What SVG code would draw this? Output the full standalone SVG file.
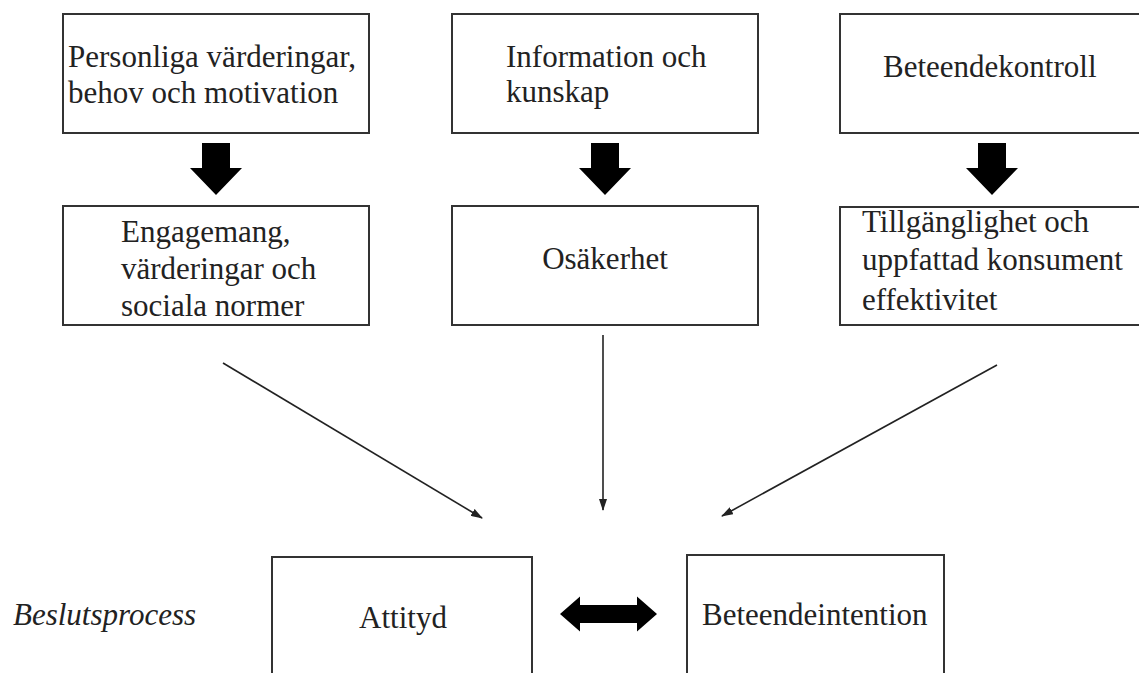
<svg xmlns="http://www.w3.org/2000/svg" width="1139" height="673" viewBox="0 0 1139 673">
<style>
.box{fill:#fff;stroke:#333;stroke-width:2}
.t{font-family:"Liberation Serif","Times New Roman",serif;font-size:31px;fill:#222}
.i{font-style:italic}
.c{stroke:#222;stroke-width:1.6;fill:none}
.blk{fill:#000}
</style>
<defs>
<marker id="ah" viewBox="0 0 12 8" refX="11" refY="4" markerWidth="12" markerHeight="8" markerUnits="userSpaceOnUse" orient="auto">
<path d="M0,0 L12,4 L0,8 Z" fill="#222"/>
</marker>
</defs>
<rect width="1139" height="673" fill="#fff"/>
<g id="n1"><rect class="box" x="63" y="14" width="306" height="119"/>
<text class="t" x="68" y="67">Personliga värderingar,</text>
<text class="t" x="68" y="103">behov och motivation</text></g>
<g id="n2"><rect class="box" x="452" y="14" width="306" height="119"/>
<text class="t" x="506" y="67">Information och</text>
<text class="t" x="506" y="102">kunskap</text></g>
<g id="n3"><rect class="box" x="840" y="14" width="320" height="119"/>
<text class="t" x="883" y="77">Beteendekontroll</text></g>
<g id="n4"><rect class="box" x="63" y="206" width="306" height="119"/>
<text class="t" x="121" y="242">Engagemang,</text>
<text class="t" x="121" y="279">värderingar och</text>
<text class="t" x="121" y="316">sociala normer</text></g>
<g id="n5"><rect class="box" x="452" y="206" width="306" height="119"/>
<text class="t" x="605" y="269" text-anchor="middle">Osäkerhet</text></g>
<g id="n6"><rect class="box" x="840" y="207" width="320" height="118"/>
<text class="t" x="862" y="232">Tillgänglighet och</text>
<text class="t" x="862" y="270">uppfattad konsument</text>
<text class="t" x="862" y="310">effektivitet</text></g>
<g id="n7"><rect class="box" x="272" y="557" width="260" height="130"/>
<text class="t" x="403" y="628" text-anchor="middle">Attityd</text></g>
<g id="n8"><rect class="box" x="687" y="555" width="257" height="130"/>
<text class="t" x="702" y="625">Beteendeintention</text></g>
<g id="label"><text class="t i" x="13" y="625">Beslutsprocess</text></g>
<g id="connectors">
<path class="blk" d="M202,143 H230 V168 H242 L216,195 L190,168 H202 Z"/>
<path class="blk" d="M591,143 H619 V168 H631 L605,195 L579,168 H591 Z"/>
<path class="blk" d="M978,143 H1006 V168 H1018 L992,195 L966,168 H978 Z"/>
<path class="blk" d="M560,614 L580,596.5 V605 H637 V596.5 L657,614 L637,631.5 V623 H580 V631.5 Z"/>
<line class="c" x1="223" y1="363" x2="482" y2="518" marker-end="url(#ah)"/>
<line class="c" x1="603" y1="335" x2="603" y2="510" marker-end="url(#ah)"/>
<line class="c" x1="997" y1="365" x2="722" y2="516" marker-end="url(#ah)"/>
</g>
</svg>
